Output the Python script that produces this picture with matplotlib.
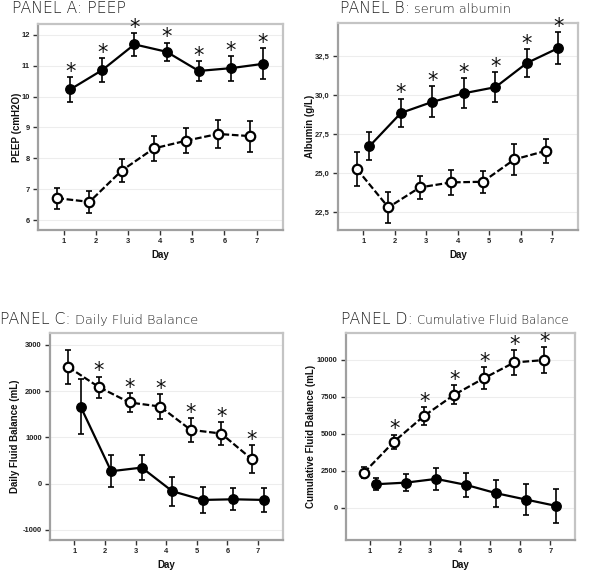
import matplotlib
matplotlib.use("Agg")
import matplotlib.pyplot as plt
from matplotlib.ticker import FixedLocator, FuncFormatter
from matplotlib.font_manager import FontProperties

days = [1, 2, 3, 4, 5, 6, 7]

# Panel A: PEEP
peep_filled = [10.23, 10.86, 11.69, 11.45, 10.83, 10.92, 11.06]
peep_filled_err = [0.39, 0.38, 0.36, 0.30, 0.32, 0.40, 0.50]
peep_open = [6.71, 6.59, 7.60, 8.32, 8.57, 8.79, 8.72]
peep_open_err = [0.34, 0.36, 0.38, 0.40, 0.41, 0.46, 0.50]

# Panel B: serum albumin
alb_filled = [26.74, 28.87, 29.58, 30.13, 30.52, 32.07, 33.03]
alb_filled_err = [0.90, 0.92, 1.00, 0.95, 0.96, 0.87, 1.00]
alb_open = [25.27, 22.82, 24.10, 24.42, 24.46, 25.89, 26.44]
alb_open_err = [1.10, 0.98, 0.72, 0.80, 0.70, 0.97, 0.75]

# Panel C: daily fluid balance
dfb_filled = [1666, 269, 347, -163, -351, -337, -351]
dfb_filled_err = [591, 346, 270, 317, 288, 238, 250]
dfb_open = [2518, 2085, 1753, 1666, 1162, 1082, 529]
dfb_open_err = [365, 227, 210, 262, 263, 241, 303]

# Panel D: cumulative fluid balance
cfb_filled = [1584, 1693, 1943, 1537, 975, 542, 115]
cfb_filled_err = [390, 600, 745, 800, 905, 1040, 1130]
cfb_open = [2370, 4469, 6208, 7630, 8761, 9817, 9980]
cfb_open_err = [390, 470, 620, 630, 730, 820, 890]

W, H = 600, 572
fig = plt.figure(figsize=(W / 100, H / 100), dpi=100)

LABFONT = dict(family="Liberation Sans", weight="bold", size=7, color="#111111")
TICKFP = FontProperties(family="Liberation Sans", weight="bold", size=5.4)


def make_ax(rect_px):
    l, t, r, b = rect_px
    return fig.add_axes([l / W, 1 - b / H, (r - l) / W, (b - t) / H])


def panel(ax, yf, yfe, yo, yoe, star_series, star_days, ylim, yticks, ylabel, fmt, ylab_x):
    xf = [d + 0.2 for d in days]
    xo = [d - 0.2 for d in days]
    ax.errorbar(xf, yf, yerr=yfe, fmt="-", color="black", lw=1.6, elinewidth=1.2,
                capsize=2.2, capthick=1.2, zorder=3)
    ax.plot(xf, yf, "o", color="black", ms=6.8, zorder=5)
    ax.errorbar(xo, yo, yerr=yoe, fmt="--", color="black", lw=1.6, elinewidth=1.2,
                capsize=2.2, capthick=1.2, dashes=(3, 1.2), zorder=3)
    ax.plot(xo, yo, "o", mfc="white", mec="black", mew=1.6, ms=6.8, zorder=5)
    if star_series == "filled":
        sx, sy, se = xf, yf, yfe
    else:
        sx, sy, se = xo, yo, yoe
    for i, d in enumerate(days):
        if d in star_days:
            ax.annotate("*", (sx[i], sy[i] + se[i]), xytext=(0, -3.5),
                        textcoords="offset points", ha="center", va="bottom",
                        fontsize=15, family="DejaVu Sans",
                        color="#111111", zorder=6)
    ax.set_xlim(0.2, 7.82)
    ax.set_ylim(*ylim)
    ax.set_xticks(days)
    ax.set_xticklabels([str(d) for d in days])
    ax.yaxis.set_major_locator(FixedLocator(yticks))
    ax.yaxis.set_major_formatter(FuncFormatter(fmt))
    for lab in ax.get_xticklabels() + ax.get_yticklabels():
        lab.set_fontproperties(TICKFP)
        lab.set_color("#222222")
    ax.tick_params(direction="out", length=3.5, width=1.0, color="#333333", pad=2.5)
    ax.yaxis.grid(True, color="#ededed", lw=0.8)
    ax.set_axisbelow(True)
    for s in ["left", "bottom"]:
        ax.spines[s].set_color("#a0a0a0")
        ax.spines[s].set_linewidth(1.6)
    for s in ["top", "right"]:
        ax.spines[s].set_color("#c4c4c4")
        ax.spines[s].set_linewidth(1.6)
    ax.set_xlabel("Day", fontdict=LABFONT, labelpad=3.5)
    ax.set_ylabel(ylabel, fontdict=LABFONT, va="center")
    ax.yaxis.set_label_coords(ylab_x, 0.5)


axA = make_ax((38, 24, 283, 230))
panel(axA, peep_filled, peep_filled_err, peep_open, peep_open_err, "filled", [1, 2, 3, 4, 5, 6, 7],
      (5.68, 12.35), [6, 7, 8, 9, 10, 11, 12], "PEEP (cmH2O)", lambda v, p: f"{v:.0f}", -0.086)

axB = make_ax((338, 23, 578, 230))
panel(axB, alb_filled, alb_filled_err, alb_open, alb_open_err, "filled", [2, 3, 4, 5, 6, 7],
      (21.37, 34.63), [22.5, 25.0, 27.5, 30.0, 32.5], "Albumin (g/L)",
      lambda v, p: f"{v:.1f}".replace(".", ","), -0.117)

axC = make_ax((50, 333, 283, 540))
panel(axC, dfb_filled, dfb_filled_err, dfb_open, dfb_open_err, "open", [2, 3, 4, 5, 6, 7],
      (-1216, 3253), [-1000, 0, 1000, 2000, 3000], "Daily Fluid Balance (mL)",
      lambda v, p: f"{v:.0f}", -0.150)

axD = make_ax((346, 333, 575, 540))
panel(axD, cfb_filled, cfb_filled_err, cfb_open, cfb_open_err, "open", [2, 3, 4, 5, 6, 7],
      (-2187, 11808), [0, 2500, 5000, 7500, 10000], "Cumulative Fluid Balance (mL)",
      lambda v, p: f"{v:.0f}", -0.153)

# Titles
fig.canvas.draw()
renderer = fig.canvas.get_renderer()
TITLE_BIG = dict(family="DejaVu Sans", weight="light", size=11.3, color="#222222")
TITLE_SMALL = dict(family="DejaVu Sans", weight="light", size=9.3, color="#222222")


def title(x_px, base_px, big, small, small_size=9.3):
    t = fig.text(x_px / W, 1 - base_px / H, big, va="baseline", ha="left", **TITLE_BIG)
    if small:
        bb = t.get_window_extent(renderer)
        props = dict(TITLE_SMALL)
        props["size"] = small_size
        fig.text((bb.x1 + 4) / W, 1 - base_px / H, small, va="baseline", ha="left", **props)


title(12.5, 12.7, "PANEL A: PEEP", None)
title(340, 12.7, "PANEL B:", "serum albumin")
title(0, 323.5, "PANEL C:", "Daily Fluid Balance")
title(341, 323.5, "PANEL D:", "Cumulative Fluid Balance", 8.6)

fig.savefig("out.png", dpi=100, facecolor="white")
